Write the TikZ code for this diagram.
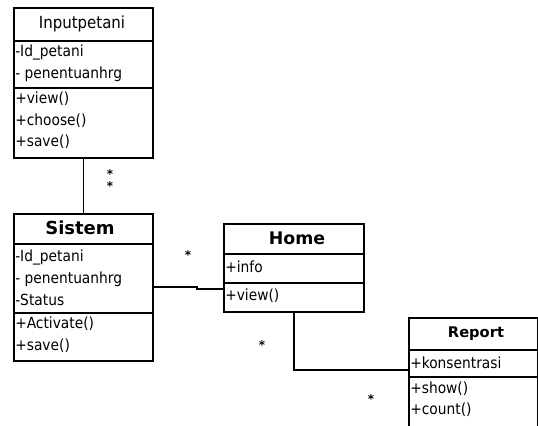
\documentclass[tikz,border=0pt]{standalone}
\usepackage{fontspec}
\setmainfont{DejaVu Sans}
\newfontfamily\condfont{DejaVu Sans Condensed}
\begin{document}
\begin{tikzpicture}[x=0.75pt,y=-0.75pt,
  umlbox/.style={draw=black,line width=1.3pt,fill=white,inner sep=0pt,anchor=north west},
  divider/.style={draw=black,line width=1pt},
  conn/.style={draw=black,line width=1pt},
  mem/.style={anchor=west,inner sep=0pt,font=\condfont\fontsize{11.5}{13}\selectfont},
  ttl/.style={inner sep=0pt,font=\condfont\fontsize{12.5}{14}\selectfont},
  ttlb/.style={inner sep=0pt,font=\bfseries\fontsize{12}{14}\selectfont},
  mult/.style={inner sep=0pt,font=\bfseries\fontsize{9}{10}\selectfont}]
\useasboundingbox[fill=white] (0,0) rectangle (538,425);
% Inputpetani
\node[umlbox,minimum width=139*0.75pt,minimum height=150*0.75pt] (inp) at (13,7) {};
\draw[divider] (13,41) -- (152,41);
\draw[divider] (13,88) -- (152,88);
\node[ttl] (inpt) at (82,24) {Inputpetani};
\node[mem] (inpa1) at (15,52) {-Id\_petani};
\node[mem] (inpa2) at (15,74) {- penentuanhrg};
\node[mem] (inpm1) at (15,99) {+view()};
\node[mem] (inpm2) at (15,121) {+choose()};
\node[mem] (inpm3) at (15,142) {+save()};
% Sistem
\node[umlbox,minimum width=139*0.75pt,minimum height=147*0.75pt] (sis) at (13,213) {};
\draw[divider] (13,244) -- (152,244);
\draw[divider] (13,313) -- (152,313);
\node[ttlb,font=\bfseries\fontsize{13.5}{15}\selectfont] (sist) at (80,228) {Sistem};
\node[mem] (sisa1) at (15,257) {-Id\_petani};
\node[mem] (sisa2) at (15,279) {- penentuanhrg};
\node[mem] (sisa3) at (15,300) {-Status};
\node[mem] (sism1) at (15,324) {+Activate()};
\node[mem] (sism2) at (15,346) {+save()};
% Home
\node[umlbox,minimum width=140*0.75pt,minimum height=88*0.75pt] (home) at (223,223) {};
\draw[divider] (223,254) -- (363,254);
\draw[divider] (223,283) -- (363,283);
\node[ttlb,font=\bfseries\fontsize{13}{15}\selectfont] (homet) at (297,238) {Home};
\node[mem] (homea1) at (225,267) {+info};
\node[mem] (homem1) at (225,296) {+view()};
% Report
\node[umlbox,minimum width=129*0.75pt,minimum height=112*0.75pt] (rep) at (408,317) {};
\draw[divider] (408,350) -- (537,350);
\draw[divider] (408,377) -- (537,377);
\node[ttlb,font=\bfseries\fontsize{11}{13}\selectfont] (rept) at (476,334) {Report};
\node[mem] (repa1) at (410,363) {+konsentrasi};
\node[mem] (repm1) at (410,389) {+show()};
\node[mem] (repm2) at (410,410) {+count()};
% connectors
\draw[conn] (inp.south) -- (sis.north);
\coordinate (bend1) at (197,287);
\coordinate (bend2) at (197,289);
\draw[conn] (sis.east |- bend1) -- (bend1) -- (bend2) -- (home.west |- bend2);
\coordinate (bend3) at (293,370);
\draw[conn] (home.south) |- (rep.west |- bend3);
% multiplicities
\node[mult] (m1) at (110,174) {*};
\node[mult] (m2) at (110,186) {*};
\node[mult] (m3) at (188,255) {*};
\node[mult] (m4) at (262,345) {*};
\node[mult] (m5) at (371,399) {*};
\end{tikzpicture}
\end{document}
